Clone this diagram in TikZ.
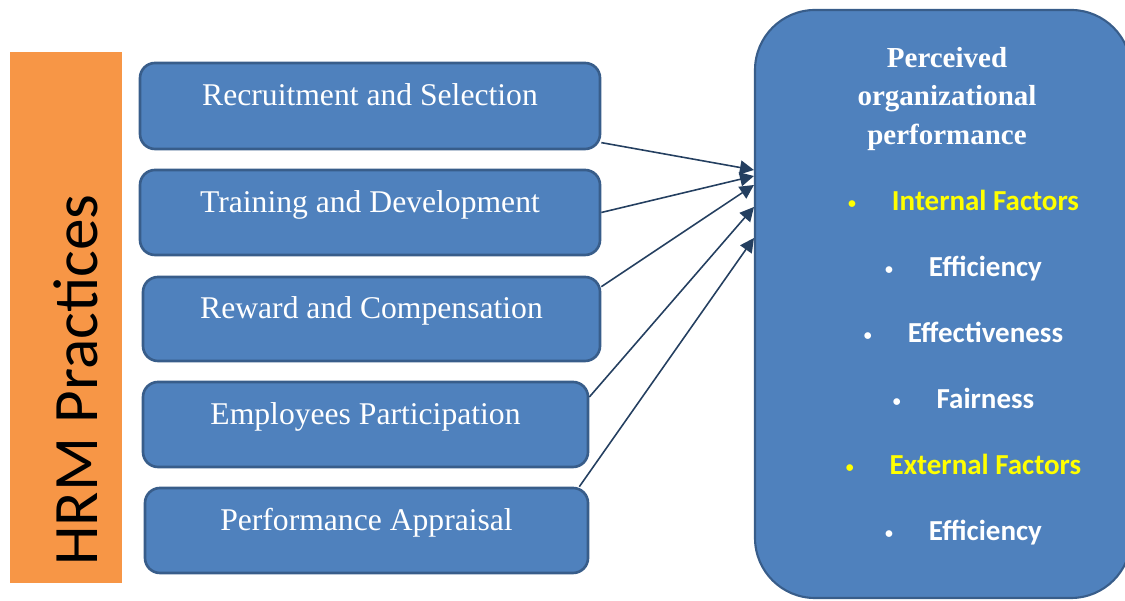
\documentclass[tikz,border=0pt]{standalone}
\usepackage{fontspec}
\setmainfont{Liberation Serif}
\newfontfamily\calibri{Carlito}
\usepackage{tikz}
\usetikzlibrary{arrows.meta}
\definecolor{hrmorange}{HTML}{F79646}
\definecolor{boxblue}{HTML}{4F81BD}
\definecolor{boxline}{HTML}{385D8A}
\definecolor{arrowblue}{HTML}{243F60}
\definecolor{factyellow}{HTML}{FFFF00}
\newcommand{\itm}[2]{\textcolor{#1}{\raisebox{1.5pt}{\fontsize{9}{9}\selectfont\textbullet}\hspace{0.72cm}#2}}

\begin{document}
\begin{tikzpicture}
[prac/.style={rectangle,rounded corners=0.3cm,fill=boxblue,draw=boxline,line width=1.5pt,minimum height=1.7cm,text=white,text height=0.5cm,text depth=0.5cm,font=\fontsize{18}{20}\selectfont},
					perfbox/.style={rectangle,rounded corners=1.2cm,fill=boxblue,draw=boxline,line width=1.2pt},
					item/.style={anchor=base,font=\calibri\bfseries\fontsize{16.5}{18}\selectfont},
					arr/.style={-{Triangle[length=2.8mm,width=2.8mm]},draw=arrowblue,line width=0.9pt}]
					\useasboundingbox (0,0) rectangle (22.5,12.02);
					\clip (0,0) rectangle (22.5,12.02);
					\node[rectangle,fill=hrmorange,minimum width=2.24cm,minimum height=10.62cm] (hrm) at (1.32,5.67) {};
					\node[rotate=90,font=\calibri\fontsize{36}{40}\selectfont] (hrmtxt) at (1.52,4.42) {HRM Practices};
					\node[prac,minimum width=9.2cm,minimum height=1.72cm] (rs) at (7.4,9.9) {Recruitment and Selection};
					\node[prac,minimum width=9.2cm] (td) at (7.4,7.77) {Training and Development};
					\node[prac,minimum width=9.14cm,minimum height=1.68cm] (rc) at (7.43,5.64) {Reward and Compensation};
					\node[prac,minimum width=8.9cm] (ep) at (7.31,3.53) {Employees Participation};
					\node[prac,minimum width=8.86cm] (pa) at (7.33,1.41) {Performance Appraisal};
					\node[perfbox,minimum width=7.52cm,minimum height=11.76cm] (perf) at (18.86,5.94) {};
					\node[align=center,text=white,font=\bfseries\fontsize{16.5}{22}\selectfont] (ttl) at (18.94,10.04) {Perceived\\organizational\\performance};
					\node[item] (int) at (19.27,7.8) {\itm{factyellow}{Internal Factors}};
					\node[item] (eff) at (19.27,6.48) {\itm{white}{Efficiency}};
					\node[item] (efv) at (19.27,5.16) {\itm{white}{Effectiveness}};
					\node[item] (fair) at (19.27,3.84) {\itm{white}{Fairness}};
					\node[item] (ext) at (19.27,2.52) {\itm{factyellow}{External Factors}};
					\node[item] (eff2) at (19.27,1.2) {\itm{white}{Efficiency}};
					\path (rs.-9) edge[arr] ([yshift=2.68cm]perf.west);
					\path (td.east) edge[arr] ([yshift=2.56cm]perf.west);
					\path (rc.8.5) edge[arr] ([yshift=2.38cm]perf.west);
					\path (ep.7.5) edge[arr] ([yshift=1.94cm]perf.west);
					\path ([xshift=-0.2cm]pa.north east) edge[arr] ([yshift=1.32cm]perf.west);
				\end{tikzpicture}
\end{document}
